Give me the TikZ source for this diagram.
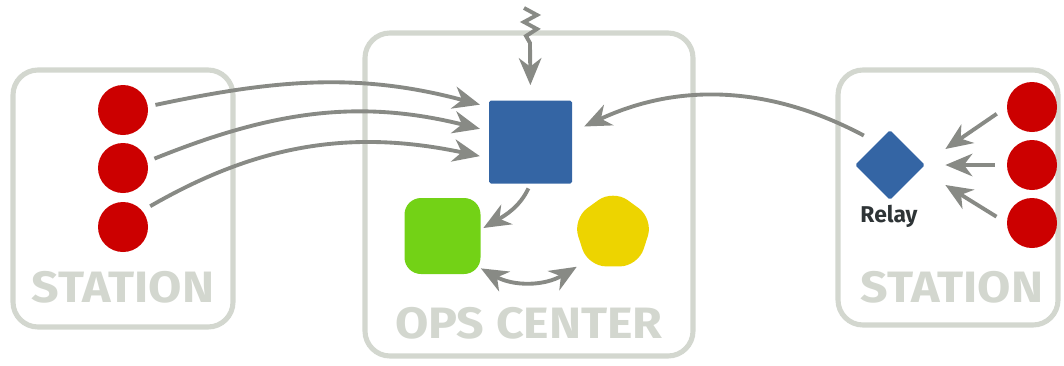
\documentclass[tikz,border=0pt]{standalone}
\usepackage{fontspec}
\setmainfont{Fira Sans}
\newfontfamily\framefont[FakeStretch=1.1]{Fira Sans}
\usetikzlibrary{arrows.meta}
\usetikzlibrary{shapes.geometric}

\definecolor{ledred}{HTML}{CC0000}
\definecolor{opsblue}{HTML}{3465A4}
\definecolor{opsgreen}{HTML}{73D216}
\definecolor{opsyellow}{HTML}{EDD400}
\definecolor{flowgray}{HTML}{888A85}
\definecolor{framegray}{HTML}{D3D7CF}
\definecolor{inkdark}{HTML}{2E3436}

\begin{document}
\begin{tikzpicture}[x = .2mm, y = .2mm,
                        >={Stealth[length=5.4mm, width=4.5mm, inset=1.7mm]},
                        frame/.style={draw=framegray, line width=2.9pt, rounded corners=5mm},
                        boxlabel/.style={anchor=base, text=framegray, font=\framefont\bfseries\fontsize{25}{25}\selectfont},
                        dot/.style={circle, fill=ledred, inner sep=0, minimum size=10mm},
                        flow/.style={draw=flowgray, line width=2.2pt, ->}]
      \useasboundingbox (0,0) rectangle (1064,365);

      \draw[frame] (13,38) rectangle (233,295);
      \draw[frame] (365,9) rectangle (693,332);
      \draw[frame] (838,40) rectangle (1058,295);

      \node[boxlabel] (west) at (123,63) {STATION};
      \node[boxlabel] (ops) at (529,27) {OPS CENTER};
      \node[boxlabel] (east) at (952,63) {STATION};

      \node[dot] (out1) at (123,255) {};
      \node[dot] (out2) at (123,197) {};
      \node[dot] (out3) at (123,138) {};
      \node[dot] (in1) at (1032,258) {};
      \node[dot] (in2) at (1032,200) {};
      \node[dot] (in3) at (1032,142) {};

      \node[fill=opsblue, rounded corners=1pt, inner sep=0, minimum size=16.6mm] (hq) at (530.5,223) {};
      \node[fill=opsgreen, rounded corners=3.3mm, inner sep=0, minimum size=15.2mm] (green) at (442.5,129) {};
      \node[fill=opsyellow, regular polygon, regular polygon sides=5, rounded corners=3.6mm,
            inner sep=0, minimum size=17mm] (yellow) at (613,133) {};
      \node[fill=opsblue, diamond, rounded corners=1pt, inner sep=0, minimum size=14mm] (relay) at (890,200) {};
      \node[anchor=base, text=inkdark, font=\bfseries\fontsize{13}{13}\selectfont] (relaytext) at (889,143) {Relay};

      \coordinate (feed) at (524,357);

      \draw[flow, shorten <=1.5mm, shorten >=1.8mm] (out1.8) to[out=12, in=165] ([yshift=7mm]hq.west);
      \draw[flow, shorten <=1.5mm, shorten >=1.8mm] (out2.15) to[out=22, in=166] ([yshift=2.2mm]hq.west);
      \draw[flow, shorten <=1.8mm, shorten >=1.8mm] (out3.40) to[out=30, in=168] ([yshift=-3.2mm]hq.west);

      \draw[flow, shorten >=3mm] (feed) -- ++(13,-7) -- ++(-13,-7) -- ++(13,-7) -- ++(-11,-7) -- ++(4,-7) -- (hq.north);
      \draw[flow, shorten <=1mm] (hq.south) to[out=-115, in=30] ([xshift=.5mm, yshift=1.6mm]green.east);
      \draw[flow, <->] ([yshift=1.2mm]green.south east) to[bend right=30] ([xshift=-2.2mm]yellow.corner 3);

      \draw[flow, shorten <=3mm, shorten >=2.6mm] (relay.120) to[out=152, in=25] ([yshift=2mm]hq.east);
      \draw[flow, shorten <=2.4mm] (in1.west) -- ([xshift=4mm, yshift=3.2mm]relay.east);
      \draw[flow, shorten <=2.4mm] (in2.west) -- ([xshift=4mm]relay.east);
      \draw[flow, shorten <=2.4mm] (in3.west) -- ([xshift=4mm, yshift=-4mm]relay.east);
    \end{tikzpicture}
\end{document}
